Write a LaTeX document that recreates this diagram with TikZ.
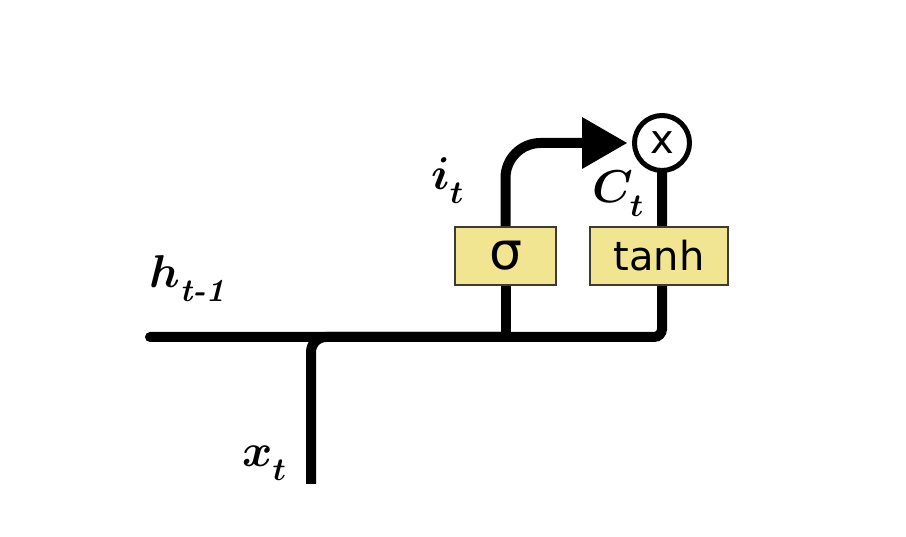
\RequirePackage{fix-cm}
\documentclass[tikz,border=0pt]{standalone}
\usepackage{amsmath}
\usepackage{fontspec}
\newfontfamily\dejavu{DejaVu Sans}
\usetikzlibrary{arrows.meta,backgrounds}
\definecolor{boxyellow}{RGB}{242,229,145}
\definecolor{boxedge}{RGB}{60,60,50}
\newcommand\lowsub[1]{_{\raisebox{-7pt}{$\scriptstyle #1$}}}
\begin{document}
\begin{tikzpicture}[x=1pt,y=-1pt,
  wire/.style={line width=10pt, black},
  gatebox/.style={draw=boxedge, line width=2pt, fill=boxyellow, minimum height=58pt, inner sep=0pt},
  var/.style={font=\fontsize{46}{50}\selectfont\boldmath, inner sep=0pt, anchor=base west}]
\useasboundingbox (0,0) rectangle (906,537);
\coordinate (hin) at (150,337);
\coordinate (xin) at (311,484);
\coordinate (join) at (662,337);
\node[gatebox, minimum width=101pt] (sig) at (505.5,256) {\dejavu\fontsize{52}{52}\selectfont σ};
\node[gatebox, minimum width=138pt] (tanh) at (659,256) {\dejavu\fontsize{40}{40}\selectfont tanh};
\node[circle, draw, fill=white, line width=5pt, minimum size=55pt, inner sep=0pt] (mul) at (662,143) {\dejavu\fontsize{40}{40}\selectfont x};
\begin{scope}[on background layer]
\draw[wire, line cap=round, rounded corners=8pt] (hin) -- (join) -- (mul.south);
\draw[wire, rounded corners=15pt] (xin) |- (sig.south |- hin);
\draw[wire] (sig.south |- hin) -- (sig.south);
\draw[wire, rounded corners=35pt, -{Triangle[length=45pt,width=52pt,line width=0pt]}] (sig.north) |- ([xshift=-5pt]mul.west);
\end{scope}
\node[var] (it) at (431,190) {$i\lowsub{t}$};
\node[var] (ct) at (592,203) {$C\lowsub{t}$};
\node[var] (ht) at (149,288) {$h\lowsub{\text{\bfseries\itshape t-1}}$};
\node[var] (xt) at (242,467) {$x\lowsub{t}$};
\end{tikzpicture}
\end{document}
